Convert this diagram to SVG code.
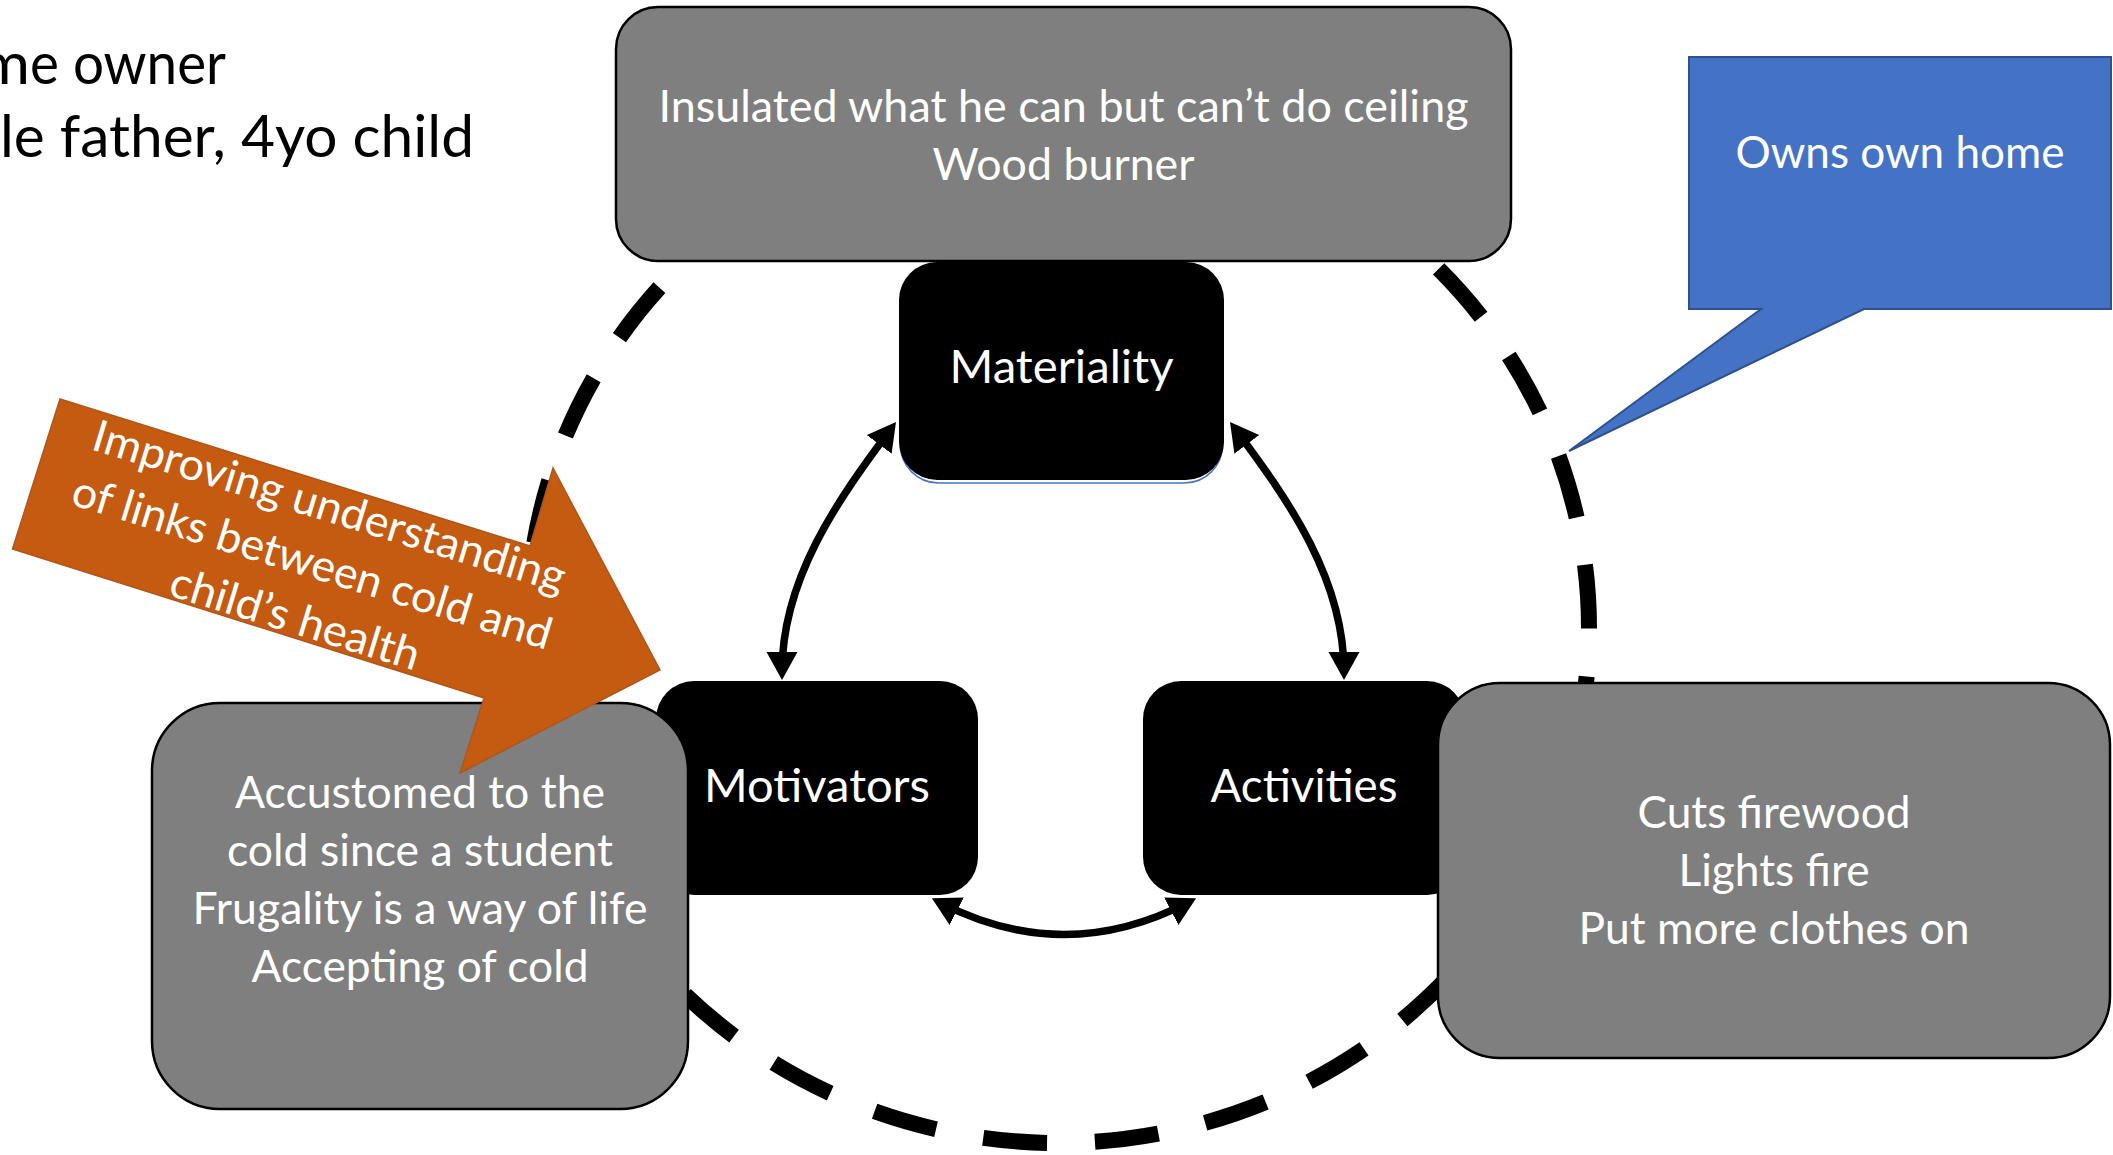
<svg xmlns="http://www.w3.org/2000/svg" width="2113" height="1155" viewBox="0 0 2113 1155">
<defs>
<style>
.t{font-family:Lato,"Open Sans","Liberation Sans",sans-serif;fill:#fff;font-size:44px;text-anchor:middle}
.b{font-size:46px}
.k{font-family:Lato,"Open Sans","Liberation Sans",sans-serif;fill:#000;font-size:58px}
.gray{fill:#7f7f7f;stroke:#000;stroke-width:2.5}
.blk{fill:#000}
.con{fill:none;stroke:#000;stroke-width:7.5}
.ring{fill:none;stroke:#000;stroke-width:16;stroke-dasharray:64 48;stroke-dashoffset:26}
</style>
<marker id="ah" markerUnits="userSpaceOnUse" markerWidth="30" markerHeight="32" refX="20" refY="15.5" orient="auto-start-reverse">
<path d="M0,0 L28,15.5 L0,31 Z" fill="#000"/>
</marker>
</defs>
<rect width="2113" height="1155" fill="#fff"/>

<g id="ring">
<path class="ring" d="M1058,113 A531,515 0 0 1 1058,1143 A531,515 0 0 1 1058,113"/>
</g>

<g id="title">
<text class="k" y="84"><tspan x="-21" textLength="51" lengthAdjust="spacingAndGlyphs">m</tspan><tspan x="30" textLength="196" lengthAdjust="spacingAndGlyphs">e owner</tspan></text>
<text class="k" x="0" y="157" textLength="474" lengthAdjust="spacingAndGlyphs">le father, 4yo child</text>
</g>

<g id="node-top">
<rect class="gray" x="616" y="7" width="895" height="254" rx="42"/>
<text class="t" x="1063.5" y="122" textLength="810" lengthAdjust="spacingAndGlyphs">Insulated what he can but can’t do ceiling</text>
<text class="t" x="1063.5" y="180" textLength="262" lengthAdjust="spacingAndGlyphs">Wood burner</text>
</g>

<g id="node-materiality">
<rect x="900.5" y="265" width="322" height="218" rx="38" fill="none" stroke="#4472c4" stroke-width="1.5"/>
<rect class="blk" x="899" y="262" width="325" height="218" rx="38"/>
<text class="t b" x="1061.5" y="383" textLength="224" lengthAdjust="spacingAndGlyphs">Materiality</text>
</g>

<g id="node-motivators">
<rect class="blk" x="656" y="681" width="322" height="214" rx="38"/>
<text class="t b" x="817" y="802" textLength="226" lengthAdjust="spacingAndGlyphs">Motivators</text>
</g>

<g id="node-activities">
<rect class="blk" x="1143" y="681" width="322" height="214" rx="38"/>
<text class="t b" x="1304" y="802" textLength="187" lengthAdjust="spacingAndGlyphs">Activities</text>
</g>

<g id="connectors">
<path class="con" d="M782,672 C782,580 836,502 891.2,428.4" marker-start="url(#ah)" marker-end="url(#ah)"/>
<path class="con" d="M1344,672 C1344,580 1290,502 1234.8,428.4" marker-start="url(#ah)" marker-end="url(#ah)"/>
<path class="con" d="M939,902 Q1064,967 1189,902" marker-start="url(#ah)" marker-end="url(#ah)"/>
</g>

<g id="node-left">
<rect class="gray" x="152" y="703" width="536" height="406" rx="68"/>
<text class="t" x="420" y="807.5" textLength="370" lengthAdjust="spacingAndGlyphs">Accustomed to the</text>
<text class="t" x="420" y="865.8" textLength="386" lengthAdjust="spacingAndGlyphs">cold since a student</text>
<text class="t" x="420" y="924.1" textLength="455" lengthAdjust="spacingAndGlyphs">Frugality is a way of life</text>
<text class="t" x="420" y="982.4" textLength="337" lengthAdjust="spacingAndGlyphs">Accepting of cold</text>
</g>

<g id="node-right">
<rect class="gray" x="1438" y="683" width="672" height="375" rx="62"/>
<text class="t" x="1774" y="827.5" textLength="273" lengthAdjust="spacingAndGlyphs">Cuts firewood</text>
<text class="t" x="1774" y="885.8" textLength="191" lengthAdjust="spacingAndGlyphs">Lights fire</text>
<text class="t" x="1774" y="944" textLength="391" lengthAdjust="spacingAndGlyphs">Put more clothes on</text>
</g>

<g id="node-arrow">
<path d="M60,399 L530,546 L553,468 L660,670 L460,773 L484,698 L12.5,549 Z" fill="#c55a11" stroke="#b0561c" stroke-width="1.5"/>
<g transform="translate(325,521) rotate(17)">
<text class="t" x="0" y="0" textLength="492" lengthAdjust="spacingAndGlyphs">Improving understanding</text>
<text class="t" x="0" y="58.5" textLength="499" lengthAdjust="spacingAndGlyphs">of links between cold and</text>
<text class="t" x="0" y="117" textLength="259" lengthAdjust="spacingAndGlyphs">child’s health</text>
</g>
</g>

<g id="node-callout">
<path d="M1689,57 H2111 V309 H1864 L1569,451 L1761,309 H1689 Z" fill="#4472c4" stroke="#2f528f" stroke-width="2"/>
<text class="t" x="1900" y="168" textLength="329" lengthAdjust="spacingAndGlyphs">Owns own home</text>
</g>
</svg>
